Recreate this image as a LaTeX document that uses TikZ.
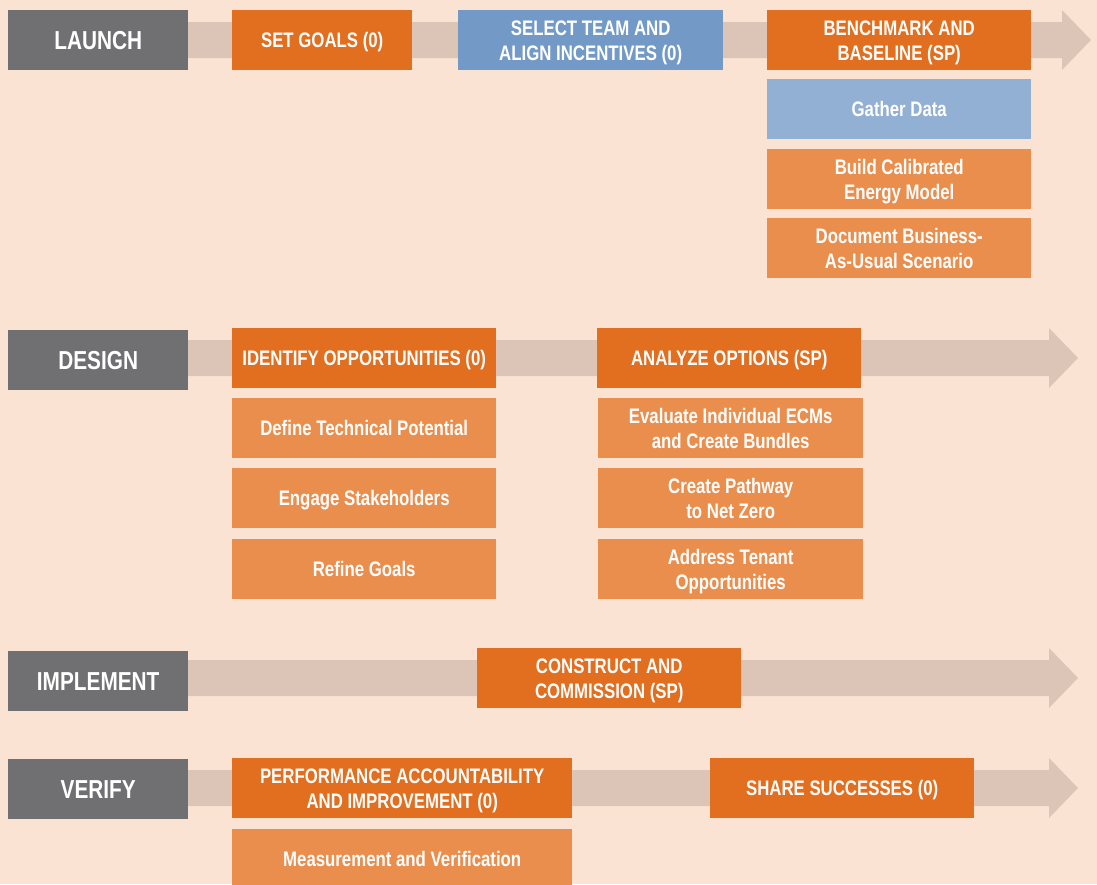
\documentclass[tikz,border=0pt]{standalone}
\usepackage{fontspec}
\newfontfamily\cond{Liberation Sans}[FakeStretch=0.8]
\definecolor{bgc}{RGB}{251,227,211}
\definecolor{bandc}{RGB}{220,197,182}
\definecolor{grayc}{RGB}{112,112,114}
\definecolor{darkor}{RGB}{226,110,31}
\definecolor{bluec}{RGB}{115,154,199}
\definecolor{lblue}{RGB}{146,175,212}
\definecolor{lorange}{RGB}{234,142,78}
\tikzset{
  base/.style={rectangle, inner sep=0pt, anchor=north west, text=white, align=center, text depth=0pt},
  phase/.style={base, fill=grayc, minimum width=180pt, minimum height=60pt, font=\cond\bfseries\fontsize{26}{30}\selectfont},
  mainbox/.style={base, fill=darkor, minimum height=60pt, font=\cond\bfseries\fontsize{21}{25}\selectfont},
  bluebox/.style={base, fill=bluec, minimum height=60pt, font=\cond\bfseries\fontsize{21}{25}\selectfont},
  subbox/.style={base, fill=lorange, minimum height=60pt, font=\cond\bfseries\fontsize{21}{25}\selectfont},
  lbluebox/.style={base, fill=lblue, minimum height=60pt, font=\cond\bfseries\fontsize{21}{25}\selectfont},
  band/.style={fill=bandc, draw=none}
}
\begin{document}
\begin{tikzpicture}[x=1pt,y=-1pt]
\fill[bgc] (0,0) rectangle (1097,884);
\useasboundingbox (0,0) rectangle (1097,884);
\clip (0,0) rectangle (1097,884);
% arrow bands
\fill[band] (150,22) -- (1062,22) -- (1062,10) -- (1091,40) -- (1062,70) -- (1062,58) -- (150,58) -- cycle;
\fill[band] (150,340) -- (1049,340) -- (1049,328) -- (1078,358) -- (1049,388) -- (1049,376) -- (150,376) -- cycle;
\fill[band] (150,660) -- (1049,660) -- (1049,648) -- (1078,678) -- (1049,708) -- (1049,696) -- (150,696) -- cycle;
\fill[band] (150,770) -- (1049,770) -- (1049,758) -- (1078,788) -- (1049,818) -- (1049,806) -- (150,806) -- cycle;
% LAUNCH
\node[phase] (launch) at (8,10) {LAUNCH};
\node[mainbox, minimum width=180pt] (setgoals) at (232,10) {SET GOALS (0)};
\node[bluebox, minimum width=265pt] (team) at (458,10) {SELECT TEAM AND\\ALIGN INCENTIVES (0)};
\node[mainbox, minimum width=264pt] (bench) at (767,10) {BENCHMARK AND\\BASELINE (SP)};
\node[lbluebox, minimum width=264pt] (gather) at (767,79) {Gather Data};
\node[subbox, minimum width=264pt] (build) at (767,149) {Build Calibrated\\Energy Model};
\node[subbox, minimum width=264pt] (bau) at (767,218) {Document Business-\\As-Usual Scenario};
% DESIGN
\node[phase] (design) at (8,330) {DESIGN};
\node[mainbox, minimum width=264pt] (identify) at (232,328) {IDENTIFY OPPORTUNITIES (0)};
\node[subbox, minimum width=264pt] (techpot) at (232,398) {Define Technical Potential};
\node[subbox, minimum width=264pt] (engage) at (232,468) {Engage Stakeholders};
\node[subbox, minimum width=264pt] (refine) at (232,539) {Refine Goals};
\node[mainbox, minimum width=264pt] (analyze) at (597,328) {ANALYZE OPTIONS (SP)};
\node[subbox, minimum width=265pt] (evaluate) at (598,398) {Evaluate Individual ECMs\\and Create Bundles};
\node[subbox, minimum width=265pt] (pathway) at (598,468) {Create Pathway\\to Net Zero};
\node[subbox, minimum width=265pt] (tenant) at (598,539) {Address Tenant\\Opportunities};
% IMPLEMENT
\node[phase] (implement) at (8,651) {IMPLEMENT};
\node[mainbox, minimum width=264pt] (construct) at (477,648) {CONSTRUCT AND\\COMMISSION (SP)};
% VERIFY
\node[phase] (verify) at (8,759) {VERIFY};
\node[mainbox, minimum width=340pt] (perf) at (232,758) {PERFORMANCE ACCOUNTABILITY\\AND IMPROVEMENT (0)};
\node[subbox, minimum width=340pt] (mv) at (232,829) {Measurement and Verification};
\node[mainbox, minimum width=264pt] (share) at (710,758) {SHARE SUCCESSES (0)};
\end{tikzpicture}
\end{document}
